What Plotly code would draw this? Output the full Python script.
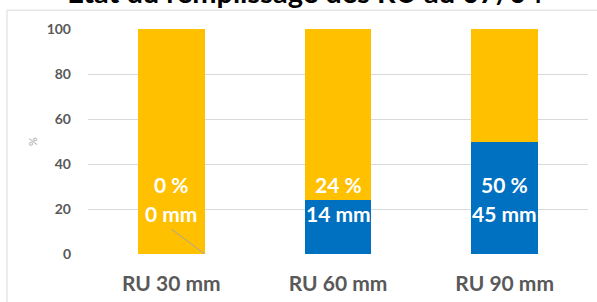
import plotly.graph_objects as go

categories = ["RU 30 mm", "RU 60 mm", "RU 90 mm"]
filled_pct = [0, 24, 50]
empty_pct = [100, 76, 50]
filled_mm = [0, 14, 45]
y_ticks = [0, 20, 40, 60, 80, 100]
title_text = "État du remplissage des RU au 07/04"

ORANGE = "#FFC000"
BLUE = "#0070C0"
GRAY = "#595959"

fig = go.Figure()
fig.add_trace(go.Bar(x=categories, y=filled_pct, marker=dict(color=BLUE, line=dict(width=0)),
                     width=0.4, hoverinfo="skip"))
fig.add_trace(go.Bar(x=categories, y=empty_pct, marker=dict(color=ORANGE, line=dict(width=0)),
                     width=0.4, hoverinfo="skip"))

annotations = []
for i, cat in enumerate(categories):
    annotations.append(dict(x=cat, y=30.7, xref="x", yref="y", text=f"{filled_pct[i]} %",
                            showarrow=False, font=dict(family="Lato", size=21, color="white", weight="bold")))
    annotations.append(dict(x=cat, y=18.0, xref="x", yref="y", text=f"{filled_mm[i]} mm",
                            showarrow=False, font=dict(family="Lato", size=21, color="white", weight="bold")))

fig.update_layout(
    barmode="stack",
    width=597, height=302,
    margin=dict(l=88, r=9, t=29, b=48),
    paper_bgcolor="white", plot_bgcolor="white",
    showlegend=False,
    title=dict(text=title_text, x=0.511, xanchor="center", y=1 - 3 / 302, yanchor="bottom",
               yref="container",
               font=dict(family="Lato", size=29, color="black", weight="bold")),
    xaxis=dict(showline=False, showgrid=False, zeroline=False, ticks="", automargin=False,
               tickfont=dict(family="Lato", size=21, color=GRAY, weight="bold"),
               ticklabelstandoff=15, range=[-0.5, 2.5]),
    yaxis=dict(range=[0, 100], tickvals=y_ticks, showgrid=True, gridcolor="#d9d9d9", gridwidth=1,
               zeroline=False, showline=False, ticks="", automargin=False,
               tickfont=dict(family="Lato", size=14, color=GRAY, weight="bold"),
               ticklabelstandoff=16,
               title=dict(text="%", font=dict(family="Lato", size=11, color="#a6a6a6"), standoff=6)),
    annotations=annotations,
    shapes=[
        dict(type="rect", xref="paper", yref="paper", x0=-0.162, x1=1.1, y0=-0.4, y1=1.084,
             line=dict(color="#d9d9d9", width=1), fillcolor="rgba(0,0,0,0)", layer="below"),
        dict(type="line", xref="x", yref="y", x0=0.0, y0=11.1, x1=0.2, y1=0,
             line=dict(color="#a6a6a6", width=1)),
    ],
)

fig.write_html("out.html", config={"displayModeBar": False},
               post_script="document.body.style.margin='0';document.body.style.overflow='hidden';")
